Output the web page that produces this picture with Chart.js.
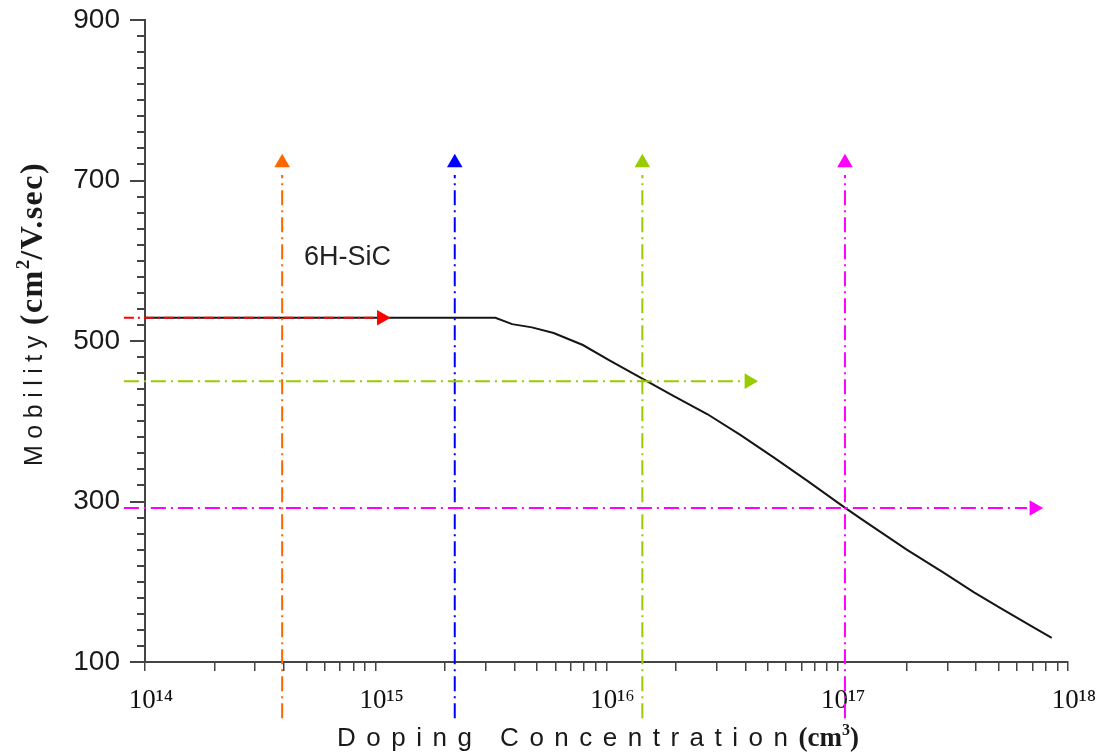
<!DOCTYPE html>
<html>
<head>
<meta charset="utf-8">
<script src="https://cdn.jsdelivr.net/npm/chart.js@4.4.0/dist/chart.umd.min.js"></script>
<style>
html,body{margin:0;padding:0;background:#fff;}
#wrap{width:1104px;height:756px;position:relative;}
</style>
</head>
<body>
<div id="wrap"><canvas id="c"></canvas></div>
<script>
// ---- data ----
const dopingConc = [1e14, 3.3e15, 3.9e15, 4.75e15, 5.9e15, 7.9e15, 1.03e16, 1.43e16, 1.94e16, 2.73e16, 3.8e16, 5.3e16, 7.4e16, 1.06e17, 1.26e17, 2.0e17, 2.9e17, 3.9e17, 5.1e17, 7.0e17, 8.5e17];
const mobility   = [529, 529, 521, 517, 510, 495, 476, 453, 432, 409, 383, 355, 326, 294, 279, 240, 211, 187, 167, 144, 130];

// horizontal reference arrows (mobility levels)
const hLevels = [529, 450, 292];
const hStart = 8.1e13;
const hEnd = [1.0e15, 3.87e16, 6.64e17];
const hArrowAt = [1.06e15, 4.15e16, 7.13e17];
const hColors = ['#ff0000', '#99cc00', '#ff00ff'];

// vertical reference arrows (doping levels)
const vLevels = [3.93e14, 2.2e15, 1.43e16, 1.08e17];
const vStart = 30;
const vEnd = 707;
const vArrowAt = 722;
const vColors = ['#ff6600', '#0000ff', '#99cc00', '#ff00ff'];

// axis ticks
const xDecades = [1e14, 1e15, 1e16, 1e17, 1e18];
const xMultiples = [1, 2, 3, 4, 5, 6, 7, 8, 9];
const yTickLabels = [100, 300, 500, 700, 900];
const yMinorStep = 20;
const materialLabel = '6H-SiC';
const materialPos = {x: 7.55e14, y: 604};

// ---- build tick lists ----
const xTickValues = [];
xDecades.forEach((d, i) => {
  if (i === xDecades.length - 1) { xTickValues.push(d); return; }
  xMultiples.forEach(m => xTickValues.push(m * d));
});
const yMinorValues = [];
for (let v = yTickLabels[0]; v <= yTickLabels[yTickLabels.length - 1]; v += yMinorStep) yMinorValues.push(v);

const SUP = {'0':'⁰','1':'¹','2':'²','3':'³','4':'⁴','5':'⁵','6':'⁶','7':'⁷','8':'⁸','9':'⁹'};
function supStr(n){ return String(n).split('').map(c => SUP[c]).join(''); }

// ---- datasets ----
const datasets = [];
const arrowPts = [], arrowRot = [], arrowCol = [];
hLevels.forEach((y, i) => { arrowPts.push({x: hArrowAt[i], y}); arrowRot.push(90); arrowCol.push(hColors[i]); });
vLevels.forEach((x, i) => { arrowPts.push({x, y: vArrowAt}); arrowRot.push(0); arrowCol.push(vColors[i]); });
datasets.push({
  label: 'arrows', data: arrowPts, showLine: false, pointStyle: 'triangle',
  pointRadius: 9, pointRotation: arrowRot, pointBackgroundColor: arrowCol,
  pointBorderColor: arrowCol, pointBorderWidth: 0, clip: false
});
hLevels.forEach((y, i) => {
  datasets.push({
    label: 'h' + i, data: [{x: hStart, y}, {x: hEnd[i], y}], showLine: true,
    borderColor: hColors[i], borderWidth: 2, borderDash: i === 0 ? [10, 4, 2, 4] : [15, 5, 2, 5],
    pointRadius: 0, clip: false
  });
});
vLevels.forEach((x, i) => {
  datasets.push({
    label: 'v' + i, data: [{x, y: vStart}, {x, y: vEnd}], showLine: true,
    borderColor: vColors[i], borderWidth: 2, borderDash: [15, 5, 2, 5],
    pointRadius: 0, clip: false
  });
});
datasets.push({
  label: 'mobility', data: dopingConc.map((x, i) => ({x, y: mobility[i]})), showLine: true,
  borderColor: '#151515', borderWidth: 2, pointRadius: 0, tension: 0
});

// ---- text plugin: axis titles with mixed fonts and the material label ----
function drawParts(ctx, parts, x, y) {
  let cx = x;
  parts.forEach(p => {
    ctx.font = p.font;
    ctx.letterSpacing = (p.spacing || 0) + 'px';
    ctx.fillText(p.text, cx, y - (p.dy || 0));
    cx += ctx.measureText(p.text).width + (p.gap || 0);
  });
  ctx.letterSpacing = '0px';
}
const textPlugin = {
  id: 'texts',
  afterDraw(chart) {
    const ctx = chart.ctx;
    ctx.save();
    ctx.fillStyle = '#1a1a1a';
    ctx.textAlign = 'left';
    ctx.textBaseline = 'alphabetic';
    // x title
    drawParts(ctx, [
      {text: 'Doping Concentration', font: '26px "Liberation Sans", Arial, sans-serif', spacing: 10.5},
      {text: '(cm', font: 'bold 27px "Liberation Serif", "Times New Roman", serif'},
      {text: '3', font: 'bold 16px "Liberation Serif", serif', dy: 11},
      {text: ')', font: 'bold 27px "Liberation Serif", "Times New Roman", serif'}
    ], 337, 746);
    // y title
    ctx.save();
    ctx.translate(31, 466);
    ctx.rotate(-Math.PI / 2);
    drawParts(ctx, [
      {text: 'Mobility', font: '25px "Liberation Sans", Arial, sans-serif', spacing: 6.5, gap: 4},
      {text: '(cm', font: 'bold 32px "Liberation Serif", "Times New Roman", serif', spacing: 1.5},
      {text: '2', font: 'bold 19px "Liberation Serif", serif', dy: 13},
      {text: '/V.sec)', font: 'bold 32px "Liberation Serif", "Times New Roman", serif', spacing: 1.5}
    ], 0, 11);
    ctx.restore();
    // material label
    const px = chart.scales.x.getPixelForValue(materialPos.x);
    const py = chart.scales.y.getPixelForValue(materialPos.y);
    ctx.font = '27px "Liberation Sans", Arial, sans-serif';
    ctx.textAlign = 'center';
    ctx.textBaseline = 'middle';
    ctx.fillStyle = '#222';
    ctx.fillText(materialLabel, px, py);
    ctx.restore();
  }
};

const axisColor = '#444';
new Chart(document.getElementById('c'), {
  type: 'scatter',
  data: {datasets},
  options: {
    responsive: true,
    maintainAspectRatio: false,
    animation: false,
    devicePixelRatio: 1,
    layout: {padding: {left: 0, top: 20, right: 36, bottom: 0}},
    plugins: {legend: {display: false}, tooltip: {enabled: false}},
    scales: {
      x: {
        type: 'logarithmic', position: 'bottom', min: 1e14, max: 1e18,
        afterBuildTicks: s => { s.ticks = xTickValues.map(v => ({value: v})); },
        ticks: {
          autoSkip: false, maxRotation: 0, minRotation: 0, padding: 14, labelOffset: 6,
          color: '#111', font: {family: '"Liberation Serif", "Times New Roman", serif', size: 27},
          callback: v => {
            const e = Math.log10(v);
            return Math.abs(e - Math.round(e)) < 1e-9 ? '10' + supStr(Math.round(e)) : '';
          }
        },
        grid: {drawOnChartArea: false, drawTicks: true, tickLength: 9, lineWidth: 1.5, color: axisColor},
        border: {display: true, color: axisColor, width: 2},
        afterFit: s => { s.height = 94; s.paddingLeft = 0; s.paddingRight = 0; }
      },
      y: {
        type: 'linear', position: 'left', weight: 1, min: 100, max: 900,
        afterBuildTicks: s => { s.ticks = yTickLabels.map(v => ({value: v})); },
        ticks: {
          padding: 10, color: '#1a1a1a',
          font: {family: '"Liberation Sans", Arial, sans-serif', size: 28},
          callback: v => String(v)
        },
        grid: {drawOnChartArea: false, drawTicks: true, tickLength: 15, lineWidth: 2, color: axisColor},
        border: {display: true, color: axisColor, width: 2},
        afterFit: s => { s.width = 145; s.paddingTop = 0; s.paddingBottom = 0; }
      },
      yMinor: {
        type: 'linear', position: 'left', weight: 0, min: 100, max: 900,
        afterBuildTicks: s => { s.ticks = yMinorValues.map(v => ({value: v})); },
        ticks: {display: false},
        grid: {drawOnChartArea: false, drawTicks: true, tickLength: 8, lineWidth: 2, color: axisColor},
        border: {display: false},
        afterFit: s => { s.width = 0; s.paddingTop = 0; s.paddingBottom = 0; }
      }
    }
  },
  plugins: [textPlugin]
});
</script>
</body>
</html>
